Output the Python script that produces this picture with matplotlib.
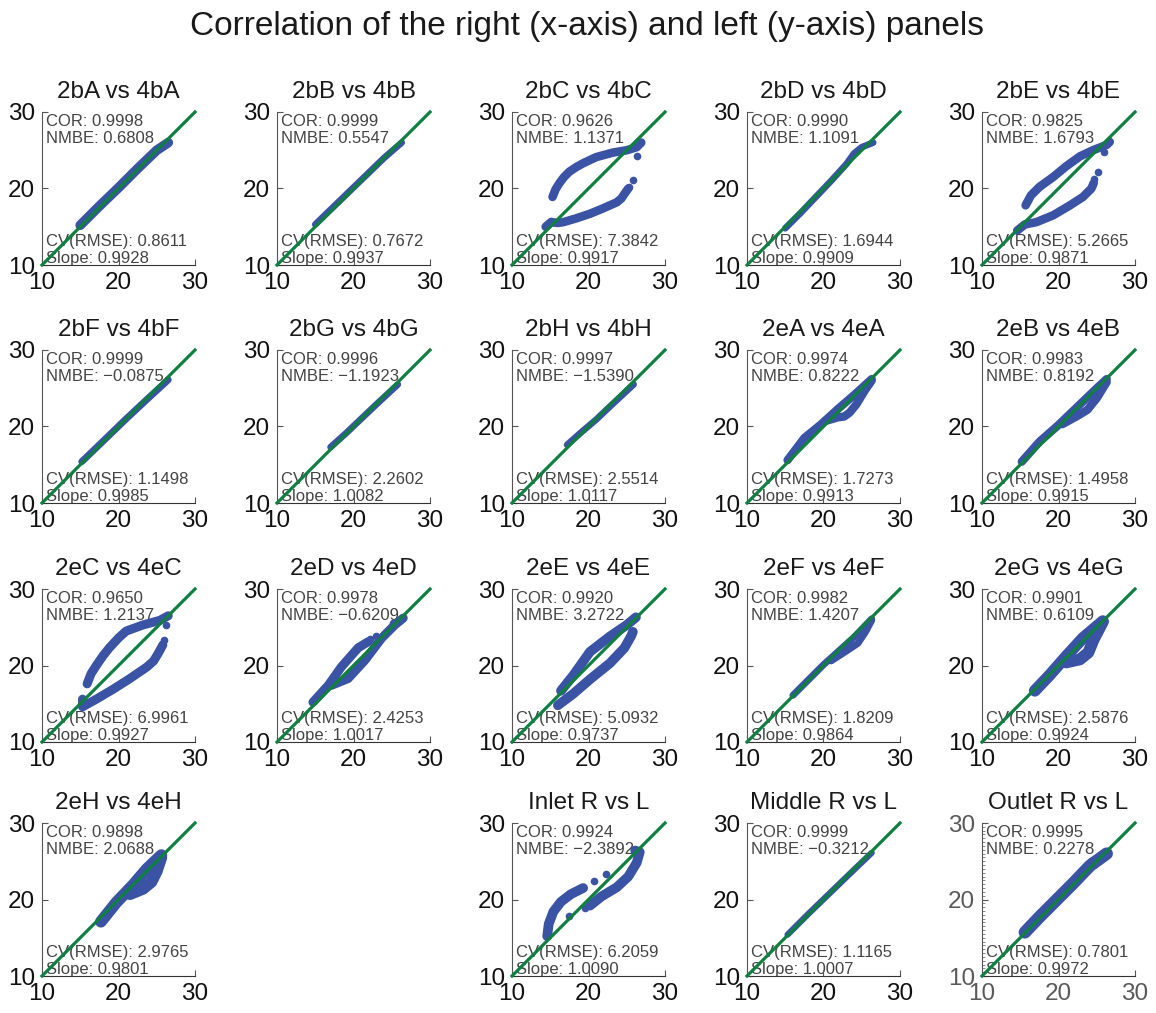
import matplotlib
matplotlib.use('Agg')
import matplotlib.pyplot as plt
from matplotlib.ticker import MultipleLocator

plt.rcParams['font.family'] = ['Liberation Sans', 'DejaVu Sans']

# panel titles and fit statistics (row by row, left to right)
titles = ["2bA vs 4bA", "2bB vs 4bB", "2bC vs 4bC", "2bD vs 4bD", "2bE vs 4bE",
          "2bF vs 4bF", "2bG vs 4bG", "2bH vs 4bH", "2eA vs 4eA", "2eB vs 4eB",
          "2eC vs 4eC", "2eD vs 4eD", "2eE vs 4eE", "2eF vs 4eF", "2eG vs 4eG",
          "2eH vs 4eH", "Inlet R vs L", "Middle R vs L", "Outlet R vs L"]
cor = [0.9998, 0.9999, 0.9626, 0.9990, 0.9825,
       0.9999, 0.9996, 0.9997, 0.9974, 0.9983,
       0.9650, 0.9978, 0.9920, 0.9982, 0.9901,
       0.9898, 0.9924, 0.9999, 0.9995]
nmbe = [0.6808, 0.5547, 1.1371, 1.1091, 1.6793,
        -0.0875, -1.1923, -1.5390, 0.8222, 0.8192,
        1.2137, -0.6209, 3.2722, 1.4207, 0.6109,
        2.0688, -2.3892, -0.3212, 0.2278]
cvrmse = [0.8611, 0.7672, 7.3842, 1.6944, 5.2665,
          1.1498, 2.2602, 2.5514, 1.7273, 1.4958,
          6.9961, 2.4253, 5.0932, 1.8209, 2.5876,
          2.9765, 6.2059, 1.1165, 0.7801]
slope = [0.9928, 0.9937, 0.9917, 0.9909, 0.9871,
         0.9985, 1.0082, 1.0117, 0.9913, 0.9915,
         0.9927, 1.0017, 0.9737, 0.9864, 0.9924,
         0.9801, 1.0090, 1.0007, 0.9972]

# traced point clouds (x = right panel, y = left panel)
bA_x = [15.0, 17.5, 20.0, 22.5, 25.0, 26.5]
bA_y = [15.2, 17.7, 20.1, 22.6, 25.0, 26.0]
bB_x = [15.0, 18.0, 21.0, 24.0, 26.3]
bB_y = [15.3, 18.2, 21.1, 24.0, 26.0]
bC_up_x = [15.3, 15.7, 16.2, 16.8, 17.5, 18.4, 19.3, 21.0, 23.2, 25.0, 26.3, 26.9]
bC_up_y = [18.9, 19.9, 20.7, 21.5, 22.2, 22.8, 23.3, 24.1, 24.7, 25.0, 25.4, 26.0]
bC_lo_x = [14.4, 15.1, 16.0, 16.7, 18.4, 20.2, 21.9, 23.7, 24.3, 24.7, 25.2]
bC_lo_y = [15.0, 15.6, 15.5, 15.6, 16.1, 16.7, 17.4, 18.2, 18.7, 19.3, 20.0]
bC_out_x = [14.7, 15.1, 25.3, 25.8, 26.3]
bC_out_y = [15.4, 15.8, 20.2, 21.1, 24.3]
bD_x = [15.0, 17.0, 19.0, 21.0, 23.0, 24.0, 25.0, 26.5]
bD_y = [14.8, 16.8, 18.9, 21.0, 23.2, 24.6, 25.4, 26.0]
bE_up_x = [15.7, 16.4, 17.5, 19.3, 21.0, 22.8, 24.5, 26.3, 26.7]
bE_up_y = [17.8, 19.1, 20.2, 21.5, 22.9, 24.2, 25.0, 25.7, 26.1]
bE_lo_x = [14.6, 15.6, 17.1, 19.3, 21.5, 23.2, 24.3, 24.6]
bE_lo_y = [14.5, 15.3, 15.6, 16.5, 17.8, 18.9, 20.0, 20.7]
bE_out_x = [24.7, 25.2, 26.0]
bE_out_y = [21.3, 22.1, 24.8]
bF_x = [15.2, 18.0, 21.0, 24.0, 26.5]
bF_y = [15.4, 18.1, 21.0, 23.8, 26.1]
bG_x = [17.0, 19.0, 21.0, 23.0, 25.8]
bG_y = [17.3, 19.1, 21.0, 22.9, 25.5]
bH_x = [17.2, 19.0, 21.0, 23.0, 25.9]
bH_y = [17.6, 19.2, 20.9, 22.8, 25.5]
eA_up_x = [15.3, 17.5, 19.7, 21.9, 24.1, 26.3]
eA_up_y = [15.6, 18.5, 20.3, 22.3, 24.2, 26.2]
eA_lo_x = [20.2, 21.9, 22.7, 23.4, 24.3, 25.4, 26.3]
eA_lo_y = [20.7, 21.2, 21.3, 21.8, 22.9, 24.7, 26.0]
eB_up_x = [15.2, 17.5, 20.0, 22.5, 25.0, 26.3]
eB_up_y = [15.4, 18.0, 20.2, 22.6, 25.0, 26.2]
eB_lo_x = [20.5, 22.5, 23.8, 25.0, 26.3]
eB_lo_y = [20.3, 21.4, 22.2, 23.7, 25.8]
eC_up_x = [15.9, 16.4, 17.1, 18.0, 18.8, 20.0, 21.0, 23.2, 25.4, 26.5]
eC_up_y = [17.6, 18.9, 20.0, 21.3, 22.3, 23.6, 24.5, 25.3, 25.9, 26.5]
eC_lo_x = [15.3, 15.3, 17.1, 19.3, 21.5, 23.7, 24.6, 25.2, 25.8]
eC_lo_y = [15.6, 14.6, 15.6, 16.9, 18.3, 19.8, 20.6, 21.6, 22.7]
eC_out_x = [25.9, 26.2]
eC_out_y = [23.3, 25.3]
eD_up_x = [14.7, 16.7, 18.4, 20.6, 21.9]
eD_up_y = [15.2, 17.4, 19.8, 22.3, 23.1]
eD_lo_x = [17.1, 19.3, 21.5, 23.7, 25.4, 26.5]
eD_lo_y = [17.4, 18.3, 20.7, 23.6, 25.3, 26.2]
eD_out_x = [22.1, 23.0, 25.2]
eD_out_y = [23.4, 23.9, 25.6]
eE_up_x = [16.4, 18.0, 20.2, 22.8, 25.0, 26.2]
eE_up_y = [16.7, 18.7, 21.8, 23.8, 25.3, 26.3]
eE_lo_x = [16.0, 18.0, 20.2, 22.8, 24.7, 25.6, 25.8]
eE_lo_y = [14.8, 16.3, 18.2, 20.3, 22.3, 23.9, 24.4]
eF_up_x = [16.0, 18.0, 20.0, 22.0, 24.0, 26.3]
eF_up_y = [16.1, 18.1, 20.1, 21.9, 23.7, 26.1]
eF_lo_x = [21.0, 23.0, 24.5, 25.5, 26.3]
eF_lo_y = [20.6, 21.9, 22.9, 24.4, 25.9]
eG_up_x = [16.9, 18.8, 21.0, 23.2, 25.8]
eG_up_y = [16.7, 18.7, 21.2, 23.6, 25.8]
eG_lo_x = [21.0, 22.8, 23.9, 24.6, 25.8]
eG_lo_y = [20.4, 20.8, 21.7, 23.4, 25.7]
eH_up_x = [17.7, 19.7, 21.9, 23.7, 25.6]
eH_up_y = [17.1, 19.6, 21.9, 24.0, 25.8]
eH_lo_x = [21.5, 23.2, 24.3, 25.0, 25.6]
eH_lo_y = [20.7, 21.4, 22.3, 23.7, 25.5]
inlet_up_x = [14.6, 14.8, 15.4, 16.4, 17.7, 19.3]
inlet_up_y = [15.2, 16.8, 18.4, 19.7, 20.7, 21.5]
inlet_lo_x = [20.2, 21.7, 23.7, 25.2, 26.3, 26.7, 26.1]
inlet_lo_y = [19.2, 20.4, 21.6, 23.0, 24.8, 26.2, 26.4]
inlet_out_x = [17.5, 19.5, 20.7, 22.3]
inlet_out_y = [17.8, 18.9, 22.4, 23.3]
middle_x = [15.3, 18.0, 21.0, 24.0, 26.3]
middle_y = [15.4, 18.1, 21.0, 23.9, 26.1]
outlet_x = [15.6, 17.5, 19.7, 21.9, 24.1, 26.3]
outlet_y = [15.7, 17.7, 19.9, 22.1, 24.4, 26.0]
outlet_out_x = [24.2]
outlet_out_y = [25.0]

ref_line = [10, 30]

BLUE = '#3a53a4'
GREEN = '#0f8040'

# (row, col, bands, outliers, band width in pt)
panels = [
    (0, 0, [(bA_x, bA_y)], None, 7.0),
    (0, 1, [(bB_x, bB_y)], None, 4.8),
    (0, 2, [(bC_up_x, bC_up_y), (bC_lo_x, bC_lo_y)], (bC_out_x, bC_out_y), 6.2),
    (0, 3, [(bD_x, bD_y)], None, 4.8),
    (0, 4, [(bE_up_x, bE_up_y), (bE_lo_x, bE_lo_y)], (bE_out_x, bE_out_y), 6.2),
    (1, 0, [(bF_x, bF_y)], None, 5.0),
    (1, 1, [(bG_x, bG_y)], None, 4.8),
    (1, 2, [(bH_x, bH_y)], None, 4.8),
    (1, 3, [(eA_up_x, eA_up_y), (eA_lo_x, eA_lo_y)], None, 6.0),
    (1, 4, [(eB_up_x, eB_up_y), (eB_lo_x, eB_lo_y)], None, 6.0),
    (2, 0, [(eC_up_x, eC_up_y), (eC_lo_x, eC_lo_y)], (eC_out_x, eC_out_y), 6.5),
    (2, 1, [(eD_up_x, eD_up_y), (eD_lo_x, eD_lo_y)], (eD_out_x, eD_out_y), 6.5),
    (2, 2, [(eE_up_x, eE_up_y), (eE_lo_x, eE_lo_y)], None, 7.0),
    (2, 3, [(eF_up_x, eF_up_y), (eF_lo_x, eF_lo_y)], None, 5.0),
    (2, 4, [(eG_up_x, eG_up_y), (eG_lo_x, eG_lo_y)], None, 8.5),
    (3, 0, [(eH_up_x, eH_up_y), (eH_lo_x, eH_lo_y)], None, 8.5),
    (3, 2, [(inlet_up_x, inlet_up_y), (inlet_lo_x, inlet_lo_y)], (inlet_out_x, inlet_out_y), 7.0),
    (3, 3, [(middle_x, middle_y)], None, 4.5),
    (3, 4, [(outlet_x, outlet_y)], (outlet_out_x, outlet_out_y), 9.0),
]

W, H = 1156, 1013
col_left = [42, 277, 512, 747, 982]
row_top = [112, 350, 589, 823]
ax_w, ax_h = 153, 153


def fmt(v):
    return ('%.4f' % v).replace('-', '\u2212')


fig = plt.figure(figsize=(W / 100, H / 100), dpi=100)
fig.text(0.508, 1 - 27 / H, "Correlation of the right (x-axis) and left (y-axis) panels",
         ha='center', va='center', fontsize=24, color='#1a1a1a')

for i, (r, c, bands, outl, bw) in enumerate(panels):
    ax = fig.add_axes([col_left[c] / W, 1 - (row_top[r] + ax_h) / H, ax_w / W, ax_h / H])
    for bx, by in bands:
        ax.plot(bx, by, color=BLUE, lw=bw, solid_capstyle='round',
                solid_joinstyle='round', zorder=2)
    if outl is not None:
        ax.plot(outl[0], outl[1], 'o', color=BLUE, ms=5.5, mew=0, zorder=2)
    ax.plot(ref_line, ref_line, color=GREEN, lw=2.3, zorder=3, clip_on=False)

    ax.set_xlim(10, 30)
    ax.set_ylim(10, 30)
    ax.set_xticks([10, 20, 30])
    ax.set_yticks([10, 20, 30])
    for s in ['top', 'right']:
        ax.spines[s].set_visible(False)
    ax.spines['left'].set_color('#555555')
    ax.spines['bottom'].set_color('#333333')
    last = i == len(panels) - 1
    ax.tick_params(direction='in', length=4, width=0.8, labelsize=17.5,
                   labelcolor='#5a5a5a' if last else '#111111', color='#555555', pad=5)
    if last:
        ax.yaxis.set_minor_locator(MultipleLocator(0.5))
        ax.tick_params(which='minor', direction='in', length=2, color='#777777')
    ax.set_title(titles[i], fontsize=17.5, pad=10, color='#1a1a1a')

    tk = dict(transform=ax.transAxes, fontsize=12, color='#444444', ha='left',
              va='center', zorder=1)
    ax.text(0.025, 0.935, "COR: " + fmt(cor[i]), **tk)
    ax.text(0.025, 0.825, "NMBE: " + fmt(nmbe[i]), **tk)
    ax.text(0.025, 0.155, "CV(RMSE): " + fmt(cvrmse[i]), **tk)
    ax.text(0.025, 0.045, "Slope: " + fmt(slope[i]), **tk)

fig.savefig("out.png", dpi=100)
